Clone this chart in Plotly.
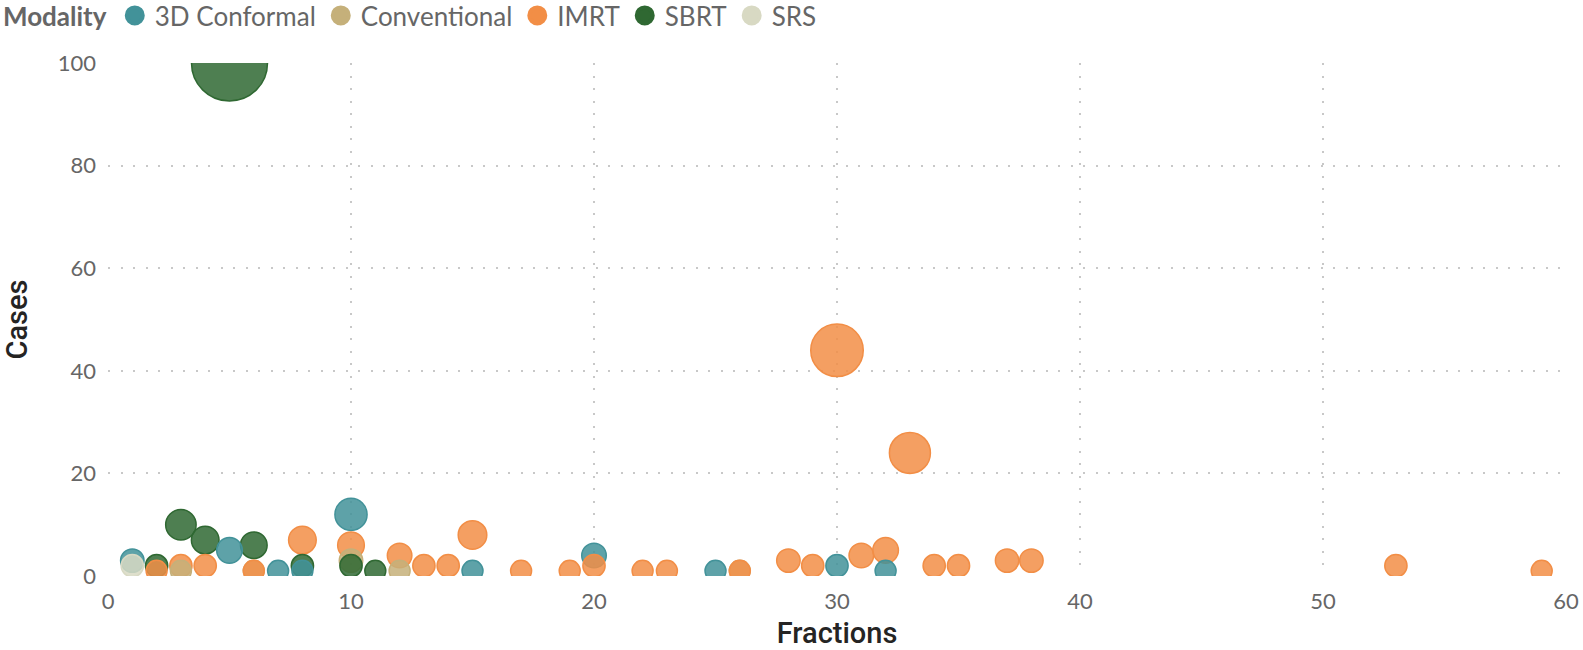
import pandas as pd
import plotly.graph_objects as go

# Cases by number of fractions, per treatment modality
conformal_fx = [1, 5, 7, 8, 10, 15, 20, 25, 30, 32]
conformal_cases = [3, 5, 1, 1, 12, 1, 4, 1, 2, 1]

conventional_fx = [3, 6, 10, 12, 26]
conventional_cases = [1, 1, 3, 1, 1]

imrt_fx = [2, 3, 4, 6, 8, 10, 12, 13, 14, 15, 17, 19, 20, 22, 23, 26,
           28, 29, 30, 31, 32, 33, 34, 35, 37, 38, 53, 59]
imrt_cases = [1, 2, 2, 1, 7, 6, 4, 2, 2, 8, 1, 1, 2, 1, 1, 1,
              3, 2, 44, 4, 5, 24, 2, 2, 3, 3, 2, 1]

sbrt_fx = [2, 3, 4, 5, 6, 8, 10, 11]
sbrt_cases = [2, 10, 7, 100, 6, 2, 2, 1]

srs_fx = [1]
srs_cases = [2]

modalities = ['3D Conformal', 'Conventional', 'IMRT', 'SBRT', 'SRS']
colors = {
    '3D Conformal': (66, 146, 153),
    'Conventional': (197, 176, 122),
    'IMRT': (242, 142, 70),
    'SBRT': (47, 104, 50),
    'SRS': (216, 217, 195),
}

frames = []
for name, fx, cases in zip(modalities,
                           [conformal_fx, conventional_fx, imrt_fx, sbrt_fx, srs_fx],
                           [conformal_cases, conventional_cases, imrt_cases, sbrt_cases, srs_cases]):
    frames.append(pd.DataFrame({'Modality': name, 'Fractions': fx, 'Cases': cases}))
df = pd.concat(frames, ignore_index=True)

# big bubbles first so the small ones end up on top
df = df.sort_values('Cases', ascending=False, kind='stable').reset_index(drop=True)

def rgba(c, a):
    return 'rgba(%d,%d,%d,%s)' % (c[0], c[1], c[2], a)

# bubble area grows linearly with cases, with a minimum
sizes = (387 + 53.9 * df['Cases']) ** 0.5

fig = go.Figure()
fig.add_trace(go.Scatter(
    x=df['Fractions'], y=df['Cases'], mode='markers', showlegend=False,
    marker=dict(size=sizes, sizemode='diameter', opacity=1,
                color=[rgba(colors[m], 0.85) for m in df['Modality']],
                line=dict(width=1.5, color=[rgba(colors[m], 1) for m in df['Modality']])),
    hovertemplate='%{x}, %{y}<extra></extra>',
))

# legend entries
for m in modalities:
    fig.add_trace(go.Scatter(
        x=[None], y=[None], mode='markers', name=m,
        marker=dict(size=16, color=rgba(colors[m], 1), line=dict(width=4, color=rgba(colors[m], 1))),
    ))

tick_font = dict(family='Lato, Segoe UI, sans-serif', size=22, color='#666666')
title_font = dict(family='Roboto, sans-serif', size=29, color='#252423', weight=500)
grid = dict(showgrid=True, gridcolor='#C8C8C8', gridwidth=2, griddash='2px,10.5px',
            zeroline=False, showline=False, tickfont=tick_font)

fig.update_xaxes(range=[0, 60], dtick=10, ticklabelstandoff=10,
                 title=dict(text='Fractions', font=title_font, standoff=17), **grid)
fig.update_yaxes(range=[0, 100], dtick=20, ticklabelstandoff=11,
                 title=dict(text='Cases', font=title_font, standoff=28), **grid)

fig.update_layout(
    width=1583, height=650,
    margin=dict(l=108, r=17, t=63, b=74, autoexpand=False),
    paper_bgcolor='white', plot_bgcolor='white',
    showlegend=True,
    legend=dict(
        orientation='h', x=-0.0734, xanchor='left', y=1.1384, yanchor='top',
        title=dict(text='Modality', font=dict(family='Lato, Segoe UI, sans-serif', size=26,
                                              color='#666666', weight='bold')),
        font=dict(family='Lato, Segoe UI, sans-serif', size=26, color='#666666'),
        itemwidth=30, tracegroupgap=0,
    ),
)

# figure fills the window exactly
fig.write_html('out.html', config={'displayModeBar': False},
               post_script="document.body.style.margin='0';")
